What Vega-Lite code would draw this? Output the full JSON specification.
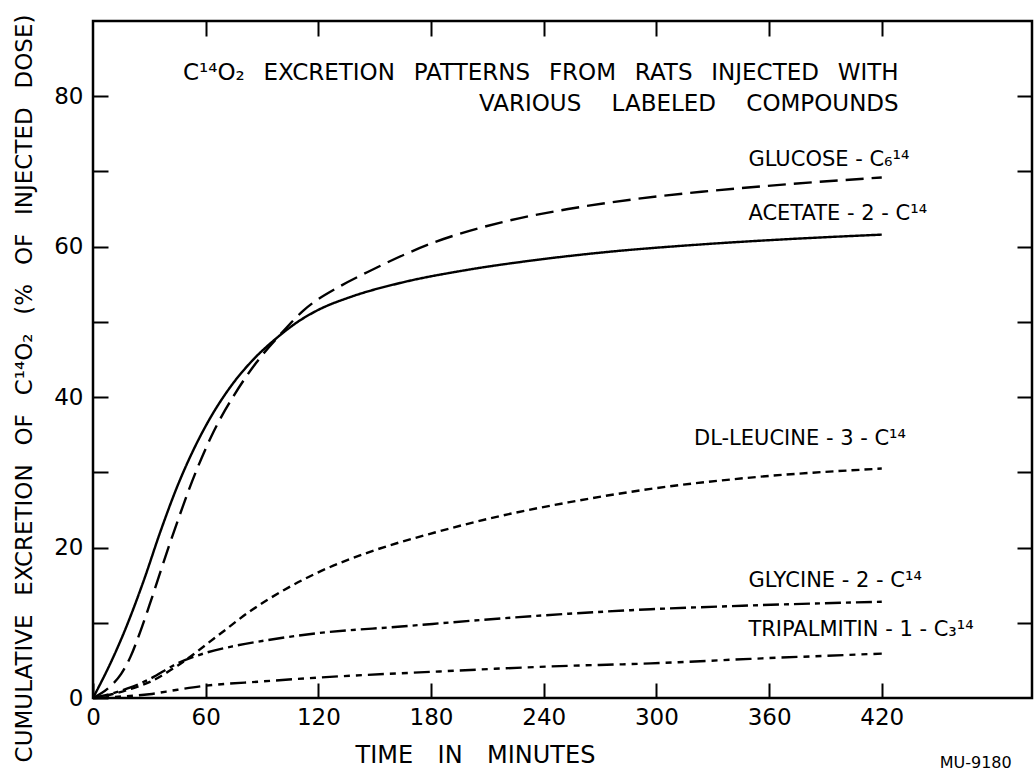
{
  "$schema": "https://vega.github.io/schema/vega-lite/v6.json",
  "width": 939,
  "height": 677,
  "autosize": {"type": "none"},
  "padding": {"left": 93, "top": 21, "right": 2, "bottom": 75},
  "background": "white",
  "config": {
    "view": {"stroke": "black", "strokeWidth": 2.5},
    "font": "DejaVu Sans",
    "axis": {"grid": false, "domain": false, "tickColor": "black", "tickWidth": 2, "tickSize": -15, "labelColor": "black", "titleColor": "black", "labelFont": "DejaVu Sans", "titleFont": "DejaVu Sans", "titleFontWeight": "normal", "labelOverlap": false}
  },
  "datasets": {
    "curves": [
      {"compound": "Acetate", "t": 0, "v": 0},
      {"compound": "Acetate", "t": 10, "v": 5.0},
      {"compound": "Acetate", "t": 16, "v": 8.4},
      {"compound": "Acetate", "t": 27, "v": 15.6},
      {"compound": "Acetate", "t": 36, "v": 22.2},
      {"compound": "Acetate", "t": 45, "v": 28.2},
      {"compound": "Acetate", "t": 52, "v": 32.2},
      {"compound": "Acetate", "t": 61, "v": 36.6},
      {"compound": "Acetate", "t": 73, "v": 41.3},
      {"compound": "Acetate", "t": 85, "v": 44.9},
      {"compound": "Acetate", "t": 98, "v": 47.9},
      {"compound": "Acetate", "t": 109, "v": 50.0},
      {"compound": "Acetate", "t": 120, "v": 51.6},
      {"compound": "Acetate", "t": 137, "v": 53.3},
      {"compound": "Acetate", "t": 164, "v": 55.2},
      {"compound": "Acetate", "t": 199, "v": 56.9},
      {"compound": "Acetate", "t": 235, "v": 58.2},
      {"compound": "Acetate", "t": 270, "v": 59.2},
      {"compound": "Acetate", "t": 324, "v": 60.3},
      {"compound": "Acetate", "t": 370, "v": 61.0},
      {"compound": "Acetate", "t": 420, "v": 61.6},
      {"compound": "Glucose", "t": 0, "v": 0},
      {"compound": "Glucose", "t": 9, "v": 1.5},
      {"compound": "Glucose", "t": 15, "v": 3.2},
      {"compound": "Glucose", "t": 20, "v": 5.5},
      {"compound": "Glucose", "t": 25, "v": 8.7},
      {"compound": "Glucose", "t": 30, "v": 12.3},
      {"compound": "Glucose", "t": 41, "v": 20.6},
      {"compound": "Glucose", "t": 55, "v": 30.2},
      {"compound": "Glucose", "t": 64, "v": 35.3},
      {"compound": "Glucose", "t": 75, "v": 40.2},
      {"compound": "Glucose", "t": 87, "v": 44.6},
      {"compound": "Glucose", "t": 100, "v": 48.4},
      {"compound": "Glucose", "t": 112, "v": 51.5},
      {"compound": "Glucose", "t": 132, "v": 54.8},
      {"compound": "Glucose", "t": 146, "v": 56.6},
      {"compound": "Glucose", "t": 182, "v": 60.6},
      {"compound": "Glucose", "t": 217, "v": 63.2},
      {"compound": "Glucose", "t": 253, "v": 65.0},
      {"compound": "Glucose", "t": 288, "v": 66.3},
      {"compound": "Glucose", "t": 324, "v": 67.3},
      {"compound": "Glucose", "t": 370, "v": 68.3},
      {"compound": "Glucose", "t": 420, "v": 69.2},
      {"compound": "Leucine", "t": 0, "v": 0},
      {"compound": "Leucine", "t": 10, "v": 0.5},
      {"compound": "Leucine", "t": 20, "v": 1.2},
      {"compound": "Leucine", "t": 30, "v": 2.1},
      {"compound": "Leucine", "t": 45, "v": 4.3},
      {"compound": "Leucine", "t": 66, "v": 8.2},
      {"compound": "Leucine", "t": 84, "v": 11.6},
      {"compound": "Leucine", "t": 102, "v": 14.4},
      {"compound": "Leucine", "t": 119, "v": 16.6},
      {"compound": "Leucine", "t": 146, "v": 19.3},
      {"compound": "Leucine", "t": 182, "v": 22.0},
      {"compound": "Leucine", "t": 217, "v": 24.2},
      {"compound": "Leucine", "t": 253, "v": 26.0},
      {"compound": "Leucine", "t": 297, "v": 27.8},
      {"compound": "Leucine", "t": 350, "v": 29.3},
      {"compound": "Leucine", "t": 420, "v": 30.5},
      {"compound": "Glycine", "t": 0, "v": 0},
      {"compound": "Glycine", "t": 10, "v": 0.6},
      {"compound": "Glycine", "t": 20, "v": 1.4},
      {"compound": "Glycine", "t": 30, "v": 2.5},
      {"compound": "Glycine", "t": 45, "v": 4.6},
      {"compound": "Glycine", "t": 60, "v": 6.0},
      {"compound": "Glycine", "t": 75, "v": 6.9},
      {"compound": "Glycine", "t": 93, "v": 7.7},
      {"compound": "Glycine", "t": 119, "v": 8.6},
      {"compound": "Glycine", "t": 164, "v": 9.5},
      {"compound": "Glycine", "t": 208, "v": 10.4},
      {"compound": "Glycine", "t": 253, "v": 11.2},
      {"compound": "Glycine", "t": 297, "v": 11.8},
      {"compound": "Glycine", "t": 350, "v": 12.3},
      {"compound": "Glycine", "t": 420, "v": 12.8},
      {"compound": "Tripalmitin", "t": 0, "v": 0},
      {"compound": "Tripalmitin", "t": 15, "v": 0.2},
      {"compound": "Tripalmitin", "t": 30, "v": 0.5},
      {"compound": "Tripalmitin", "t": 45, "v": 1.1},
      {"compound": "Tripalmitin", "t": 59, "v": 1.6},
      {"compound": "Tripalmitin", "t": 90, "v": 2.2},
      {"compound": "Tripalmitin", "t": 119, "v": 2.7},
      {"compound": "Tripalmitin", "t": 182, "v": 3.5},
      {"compound": "Tripalmitin", "t": 244, "v": 4.2},
      {"compound": "Tripalmitin", "t": 297, "v": 4.6},
      {"compound": "Tripalmitin", "t": 350, "v": 5.2},
      {"compound": "Tripalmitin", "t": 420, "v": 5.9}
    ],
    "curveLabels": [
      {"label": "GLUCOSE - C₆¹⁴", "t": 349, "v": 71.5},
      {"label": "ACETATE - 2 - C¹⁴", "t": 349, "v": 64.4},
      {"label": "DL-LEUCINE - 3 - C¹⁴", "t": 320, "v": 34.4},
      {"label": "GLYCINE - 2 - C¹⁴", "t": 349, "v": 15.5},
      {"label": "TRIPALMITIN - 1 - C₃¹⁴", "t": 349, "v": 9.1}
    ],
    "titleLines": [
      {"label": "C¹⁴O₂ \u2002EXCRETION \u2002PATTERNS \u2002FROM \u2002RATS \u2002INJECTED \u2002WITH", "t": 429, "v": 83.1},
      {"label": "VARIOUS \u2003LABELED \u2003COMPOUNDS", "t": 429, "v": 78.9}
    ],
    "stamp": [
      {"label": "MU-9180", "t": 470, "v": -8.6}
    ]
  },
  "layer": [
    {
      "data": {"name": "curves"},
      "mark": {"type": "line", "interpolate": "monotone", "color": "black", "strokeWidth": 2.4},
      "encoding": {
        "x": {"field": "t", "type": "quantitative", "scale": {"domain": [0, 500], "nice": false, "zero": false},
          "axis": {"orient": "bottom", "values": [0, 60, 120, 180, 240, 300, 360, 420], "labelFontSize": 23, "labelPadding": 23, "labelFlush": false,
            "title": "TIME \u2002\u2009IN \u2002\u2009MINUTES", "titleFontSize": 24, "titleX": 382, "titleY": 57, "titleBaseline": "middle", "titleAlign": "center"}},
        "y": {"field": "v", "type": "quantitative", "scale": {"domain": [0, 90], "nice": false},
          "axis": {"orient": "left", "values": [0, 10, 20, 30, 40, 50, 60, 70, 80], "labelExpr": "datum.value % 20 === 0 ? datum.label : ''", "labelFontSize": 23, "labelPadding": 25, "labelFlush": false,
            "title": "CUMULATIVE \u2002EXCRETION \u2002OF \u2002C¹⁴O₂ \u2002(% \u2002OF \u2002INJECTED \u2002DOSE)", "titleFontSize": 23, "titleX": -69, "titleY": 367, "titleBaseline": "middle", "titleAlign": "center", "titleAngle": 270}},
        "strokeDash": {"field": "compound", "type": "nominal", "legend": null,
          "scale": {"domain": ["Acetate", "Glucose", "Leucine", "Glycine", "Tripalmitin"], "range": [[1, 0], [18, 8], [8, 5], [16, 5, 5, 5], [16, 6, 6, 6, 6, 6]]}}
      }
    },
    {
      "data": {"name": "curveLabels"},
      "mark": {"type": "text", "align": "left", "baseline": "middle", "fontSize": 21, "color": "black", "font": "DejaVu Sans"},
      "encoding": {
        "x": {"field": "t", "type": "quantitative", "axis": {"orient": "top", "values": [60, 120, 180, 240, 300, 360, 420], "labels": false, "title": null}},
        "y": {"field": "v", "type": "quantitative", "axis": {"orient": "right", "values": [10, 20, 30, 40, 50, 60, 70, 80], "labels": false, "title": null}},
        "text": {"field": "label"}
      }
    },
    {
      "data": {"name": "titleLines"},
      "mark": {"type": "text", "align": "right", "baseline": "middle", "fontSize": 23, "color": "black", "font": "DejaVu Sans"},
      "encoding": {
        "x": {"field": "t", "type": "quantitative", "axis": null},
        "y": {"field": "v", "type": "quantitative", "axis": null},
        "text": {"field": "label"}
      }
    },
    {
      "data": {"name": "stamp"},
      "mark": {"type": "text", "align": "center", "baseline": "middle", "fontSize": 16, "color": "black", "font": "DejaVu Sans", "clip": false},
      "encoding": {
        "x": {"field": "t", "type": "quantitative", "axis": null},
        "y": {"field": "v", "type": "quantitative", "axis": null},
        "text": {"field": "label"}
      }
    }
  ],
  "resolve": {"axis": {"x": "independent", "y": "independent"}}
}
